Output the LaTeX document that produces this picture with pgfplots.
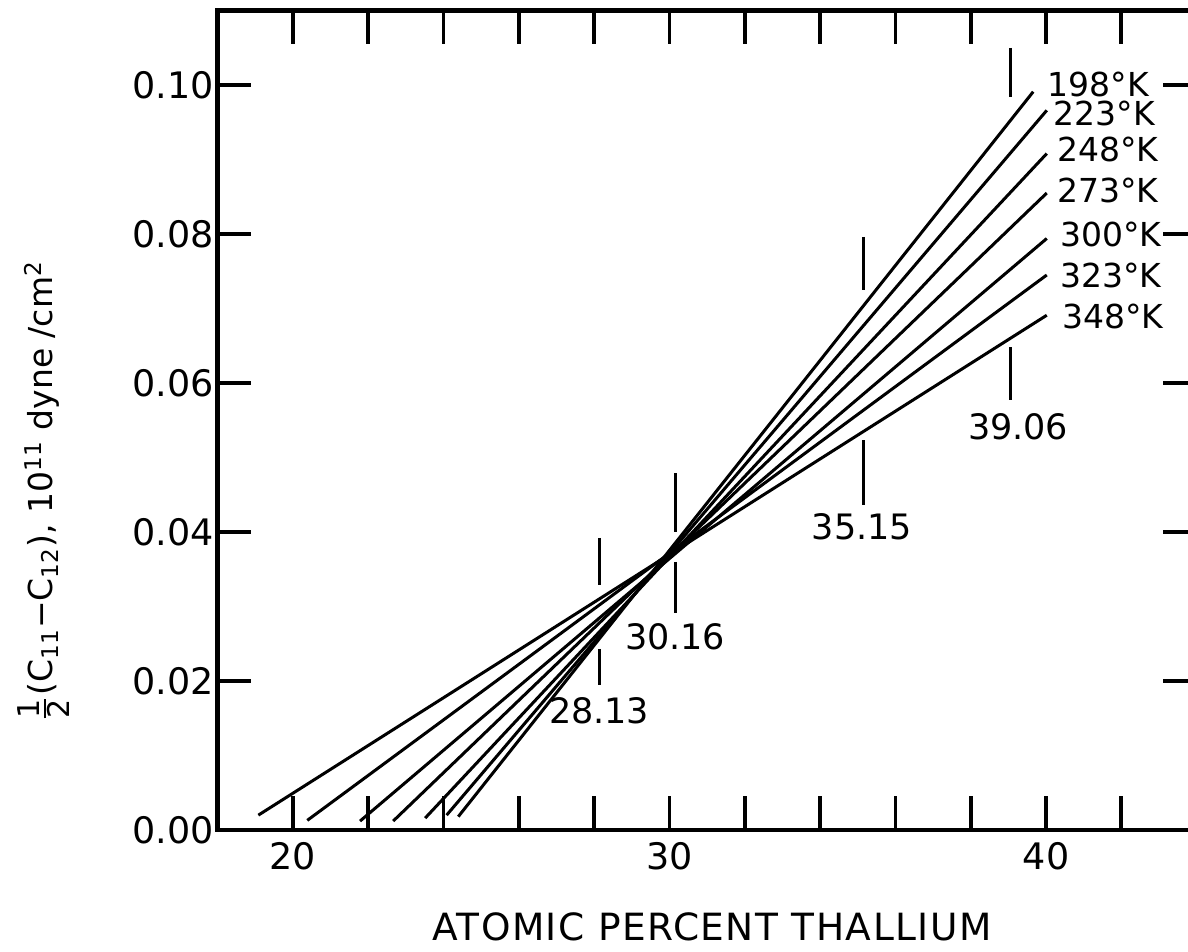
\documentclass[border=0pt]{standalone}
\usepackage{pgfplots}
\pgfplotsset{compat=1.18}
\usepackage{amsmath}
\usepackage{fontspec}
\setmainfont{DejaVu Sans}
\begin{document}
\begin{tikzpicture}
\begin{axis}[
  scale only axis,
  width=391.56pt, height=327.8pt,
  xmin=18, xmax=44, ymin=0, ymax=0.11,
  axis line style={line width=1.8pt},
  tick style={line width=1.5pt, black},
  tick align=inside,
  major tick length=13.5pt,
  xtick={20,22,24,26,28,30,32,34,36,38,40,42},
  xticklabels={20,,,,,30,,,,,40,},
  ytick={0,0.02,0.04,0.06,0.08,0.10},
  yticklabels={0.00,0.02,0.04,0.06,0.08,0.10},
  ticklabel style={font=\fontsize{14.6}{18}\selectfont},
  yticklabel style={xshift=2pt},
  xticklabel style={yshift=-1.6pt},
  clip=false,
  ln/.style={black, solid, line width=1.2pt, mark=none},
]
% temperature lines
\addplot[ln] coordinates {(24.39,0.0018) (39.66,0.0991)}; % 198 K
\addplot[ln] coordinates {(24.08,0.0020) (40.02,0.0966)}; % 223 K
\addplot[ln] coordinates {(23.51,0.0016) (40.02,0.0908)}; % 248 K
\addplot[ln] coordinates {(22.66,0.0012) (40.02,0.0855)}; % 273 K
\addplot[ln] coordinates {(21.78,0.0012) (40.02,0.0794)}; % 300 K
\addplot[ln] coordinates {(20.38,0.0013) (40.02,0.0745)}; % 323 K
\addplot[ln] coordinates {(19.08,0.0020) (40.02,0.0691)}; % 348 K

% composition markers
\addplot[ln] coordinates {(28.13,0.0392) (28.13,0.0329)};
\addplot[ln] coordinates {(28.13,0.0243) (28.13,0.0195)};
\addplot[ln] coordinates {(30.16,0.0479) (30.16,0.0400)};
\addplot[ln] coordinates {(30.16,0.0360) (30.16,0.0291)};
\addplot[ln] coordinates {(35.15,0.0796) (35.15,0.0725)};
\addplot[ln] coordinates {(35.15,0.0523) (35.15,0.0436)};
\addplot[ln] coordinates {(39.06,0.1050) (39.06,0.0984)};
\addplot[ln] coordinates {(39.06,0.0648) (39.06,0.0577)};

\begin{scope}[every node/.style={inner sep=0pt, font=\fontsize{14}{16}\selectfont}]
\node[anchor=center] at (axis cs:28.13,0.0160) {28.13};
\node[anchor=center] at (axis cs:30.15,0.0259) {30.16};
\node[anchor=center] at (axis cs:35.11,0.0407) {35.15};
\node[anchor=center] at (axis cs:39.26,0.0541) {39.06};
\end{scope}

\begin{scope}[every node/.style={inner sep=0pt, anchor=west, font=\fontsize{13.2}{15}\selectfont}]
\node at (axis cs:40.03,0.1001) {198°K};
\node at (axis cs:40.19,0.0962) {223°K};
\node at (axis cs:40.29,0.0913) {248°K};
\node at (axis cs:40.29,0.0859) {273°K};
\node at (axis cs:40.37,0.0800) {300°K};
\node at (axis cs:40.37,0.0745) {323°K};
\node at (axis cs:40.42,0.0689) {348°K};
\end{scope}

% axis titles
\node[anchor=base, inner sep=0pt, font=\fontsize{15}{18}\selectfont\addfontfeature{LetterSpace=4}]
  at (axis cs:31.13,-0.01477) {ATOMIC PERCENT THALLIUM};
\node[anchor=base, rotate=90, inner sep=0pt, font=\fontsize{13.2}{16}\selectfont]
  at (axis cs:13.60,0.04544)
  {\raisebox{-1pt}{\scalebox{1.3}{$\frac{\textrm{1}}{\textrm{2}}$}}(C\textsubscript{11}−C\textsubscript{12}), 10\textsuperscript{11} dyne /cm\textsuperscript{2}};

\coordinate (BBsw) at (axis cs:12.218,-0.01624);
\coordinate (BBne) at (axis cs:43.771,0.11141);
\end{axis}
\pgfresetboundingbox
\path[use as bounding box] (BBsw) rectangle (BBne);
\end{tikzpicture}
\end{document}
